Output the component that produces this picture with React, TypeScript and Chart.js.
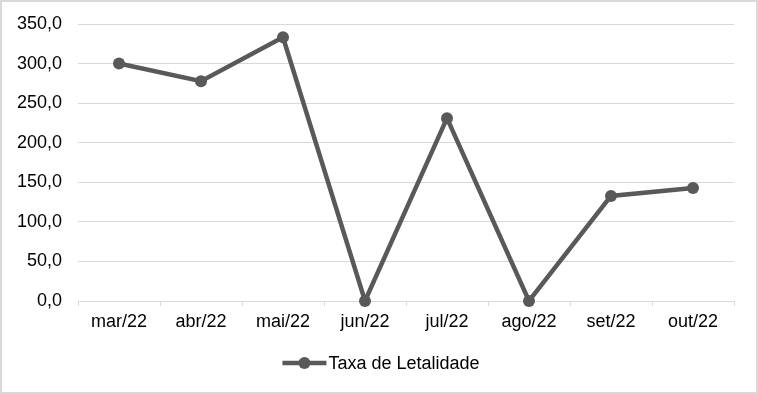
import React, { useEffect, useRef } from "react";
import { Chart, registerables } from "chart.js";

Chart.register(...registerables);

const categories = ["mar/22", "abr/22", "mai/22", "jun/22", "jul/22", "ago/22", "set/22", "out/22"];
const seriesLabel = "Taxa de Letalidade";
const taxaValues = [300.0, 277.8, 333.3, 0.0, 231.0, 0.0, 132.7, 142.9];
const yMin = 0;
const yMax = 350;
const yStep = 50;

const FONT = "'Liberation Sans', Arial, sans-serif";
const LINE_COLOR = "#595959";
const GRID_COLOR = "#d9d9d9";

const legendPlugin = {
  id: "customLegend",
  afterDraw(chart: any) {
    const ctx = chart.ctx;
    const ds = chart.data.datasets[0];
    ctx.save();
    ctx.font = `18px ${FONT}`;
    const text = ds.label as string;
    const tw = ctx.measureText(text).width;
    const lineW = 44;
    const gap = 2;
    const total = lineW + gap + tw;
    const cx = 381;
    const y = 363;
    const x0 = cx - total / 2;
    ctx.strokeStyle = LINE_COLOR;
    ctx.lineWidth = 4.5;
    ctx.beginPath();
    ctx.moveTo(x0, y);
    ctx.lineTo(x0 + lineW, y);
    ctx.stroke();
    ctx.fillStyle = LINE_COLOR;
    ctx.beginPath();
    ctx.arc(x0 + lineW / 2, y, 6, 0, Math.PI * 2);
    ctx.fill();
    ctx.fillStyle = "#000";
    ctx.textBaseline = "middle";
    ctx.textAlign = "left";
    ctx.fillText(text, x0 + lineW + gap, y + 1);
    ctx.restore();
  },
};

export default function App() {
  const ref = useRef<HTMLCanvasElement>(null);

  useEffect(() => {
    document.body.style.margin = "0";
    const canvas = ref.current!;
    const chart = new Chart(canvas, {
      type: "line",
      data: {
        labels: categories,
        datasets: [
          {
            label: seriesLabel,
            data: taxaValues,
            borderColor: LINE_COLOR,
            backgroundColor: LINE_COLOR,
            borderWidth: 4.5,
            pointRadius: 6,
            pointBackgroundColor: LINE_COLOR,
            pointBorderColor: LINE_COLOR,
            pointBorderWidth: 0,
            tension: 0,
            clip: false,
          },
        ],
      },
      options: {
        animation: false,
        responsive: false,
        layout: { padding: { top: 24, right: 24, bottom: 0, left: 0 } },
        plugins: {
          legend: { display: false },
          tooltip: { enabled: false },
        },
        scales: {
          x: {
            offset: true,
            grid: {
              offset: true,
              drawOnChartArea: false,
              drawTicks: true,
              tickLength: 5,
              color: GRID_COLOR,
              lineWidth: 1,
            },
            border: { display: true, color: GRID_COLOR, width: 1 },
            ticks: {
              color: "#000",
              font: { family: FONT, size: 18 },
              padding: 5,
              maxRotation: 0,
              autoSkip: false,
            },
            afterFit(scale: any) {
              scale.height = 93;
              scale.paddingLeft = 0;
              scale.paddingRight = 0;
            },
          },
          y: {
            min: yMin,
            max: yMax,
            grid: { color: GRID_COLOR, lineWidth: 1, drawTicks: false },
            border: { display: false },
            ticks: {
              stepSize: yStep,
              color: "#000",
              font: { family: FONT, size: 18 },
              padding: 16,
              callback: (v: any) => Number(v).toFixed(1).replace(".", ","),
            },
            afterFit(scale: any) {
              scale.width = 78;
              scale.paddingTop = 0;
              scale.paddingBottom = 0;
            },
          },
        },
      },
      plugins: [legendPlugin],
    });
    return () => chart.destroy();
  }, []);

  return (
    <div
      style={{
        position: "relative",
        width: 758,
        height: 394,
        boxSizing: "border-box",
        background: "#fff",
      }}
    >
      <canvas ref={ref} width={758} height={394} style={{ display: "block", width: 758, height: 394 }} />
      <div
        style={{
          position: "absolute",
          left: 0,
          top: 0,
          width: 758,
          height: 394,
          boxSizing: "border-box",
          border: `2px solid ${GRID_COLOR}`,
          pointerEvents: "none",
        }}
      />
    </div>
  );
}
